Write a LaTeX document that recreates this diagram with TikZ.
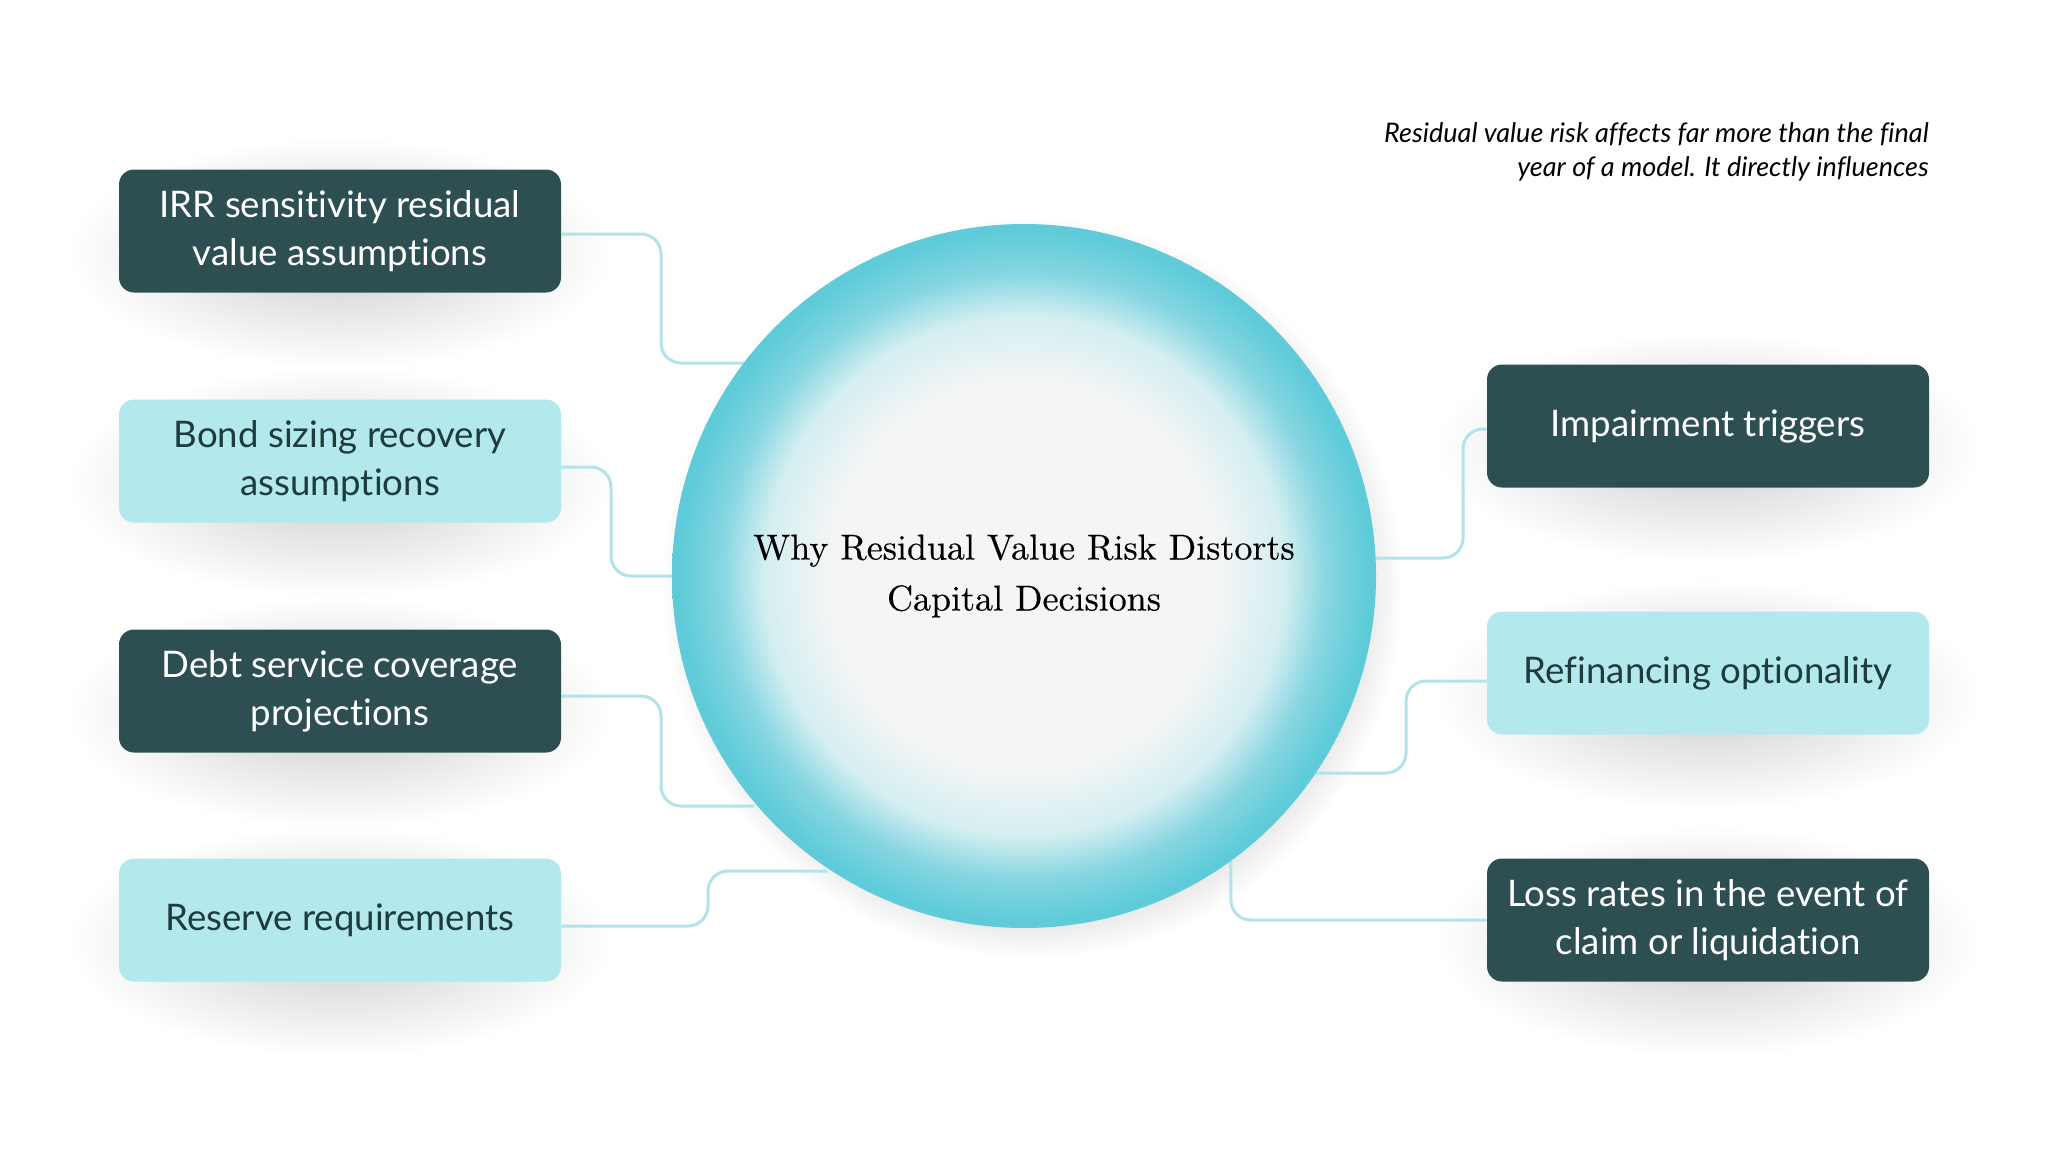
\documentclass[tikz,border=0pt]{standalone}
\usepackage{fontspec}
\newfontfamily\boxfont{Lato}[Ligatures=NoCommon]
\newfontfamily\titlef{lmroman10-regular.otf}[FakeBold=0.35]
\usetikzlibrary{fadings,calc}
\definecolor{darkbox}{HTML}{2D4F52}
\definecolor{lightbox}{HTML}{B3E8EC}
\definecolor{lighttext}{HTML}{1E3B3E}
\definecolor{connc}{HTML}{B0E4E9}
\definecolor{ballin}{HTML}{F4F5F5}
\definecolor{ballmid}{HTML}{D3EEF1}
\definecolor{ballmid2}{HTML}{86D6E1}
\definecolor{ballout}{HTML}{5FCBD9}
\pgfdeclareradialshading{ballshade}{\pgfpointorigin}{color(0bp)=(ballin); color(14bp)=(ballin); color(18.5bp)=(ballmid); color(21.5bp)=(ballmid2); color(24.5bp)=(ballout); color(50bp)=(ballout)}
\tikzfading[name=softshadow, inner color=transparent!0, outer color=transparent!100]
\pgfdeclareradialshading{circshadowsh}{\pgfpointorigin}{color(0bp)=(white); color(21bp)=(white); color(25bp)=(black); color(50bp)=(black)}
\pgfdeclarefading{circshadow}{\pgfuseshading{circshadowsh}}
\pgfdeclarelayer{back}
\pgfdeclarelayer{shad}
\pgfdeclarelayer{bg}
\pgfsetlayers{back,shad,bg,main}
\tikzset{
  card/.style={rounded corners=7.5pt, minimum width=221pt, minimum height=61.5pt, inner sep=0pt, align=center,
    font=\boxfont\fontsize{18.3}{24}\selectfont},
  darkcard/.style={card, fill=darkbox, text=white},
  lightcard/.style={card, fill=lightbox, text=lighttext},
  conn/.style={draw=connc, line width=1.5pt, rounded corners=10pt},
  shadowfill/.style={fill=black, opacity=0.2, path fading=softshadow},
}
\newcommand{\cardshadow}[1]{\path[shadowfill] ($(#1.north west)+(-50,-32)$) rectangle ($(#1.south east)+(50,75)$);}
\begin{document}
\begin{tikzpicture}[x=0.5pt, y=-0.5pt]
\begin{pgfonlayer}{back}
\fill[white] (0,0) rectangle (2048,1152);
\end{pgfonlayer}
\useasboundingbox (0,0) rectangle (2048,1152);
% centre
\node[circle, minimum size=352pt, inner sep=0pt, outer sep=0pt, shading=ballshade,
  align=center, font=\titlef\fontsize{18}{25.5}\selectfont] (c) at (1024,576)
  {Why Residual Value Risk Distorts\\Capital Decisions};
% left cards
\node[darkcard]  (irr)  at (340,231) {IRR sensitivity residual\\value assumptions};
\node[lightcard] (bond) at (340,461) {Bond sizing recovery\\assumptions};
\node[darkcard]  (debt) at (340,691) {Debt service coverage\\projections};
\node[lightcard] (res)  at (340,920) {Reserve requirements};
% right cards
\node[darkcard]  (imp)  at (1708,426) {Impairment triggers};
\node[lightcard] (ref)  at (1708,673) {Refinancing optionality};
\node[darkcard]  (loss) at (1708,920) {Loss rates in the event of\\claim or liquidation};
% note
\node[anchor=east, align=right, inner sep=0pt, font=\boxfont\itshape\fontsize{13.5}{17}\selectfont] (note) at (1929,152)
  {Residual value risk affects far more than the final\\year of a model. It directly influences};
% shadows
\begin{pgfonlayer}{shad}
\foreach \n in {irr,bond,debt,res,imp,ref,loss}{\cardshadow{\n}}
\path[fill=black, opacity=0.14, path fading=circshadow] ($(c.center)+(8,12)$) circle (185pt);
\end{pgfonlayer}
% connectors
\begin{pgfonlayer}{bg}
\draw[conn] ($(irr.east)+(0,3)$)  -| (661,363) -- (c.142.6 |- 0,363);
\draw[conn] ($(bond.east)+(0,6)$) -| (611,576) -- (c.180);
\draw[conn] ($(debt.east)+(0,5)$) -| (661,806) -- (c.220.8 |- 0,806);
\draw[conn] ($(res.east)+(0,6)$)  -| (708,871) -- (c.236.9 |- 0,871);
\draw[conn] ($(imp.west)+(0,3)$)  -| (1463,558) -- (c.3 |- 0,558);
\draw[conn] ($(ref.west)+(0,8)$)  -| (1406,773) -- (c.-34.1 |- 0,773);
\draw[conn] (loss.west) -| (c.-54.6);
\end{pgfonlayer}
\end{tikzpicture}
\end{document}
